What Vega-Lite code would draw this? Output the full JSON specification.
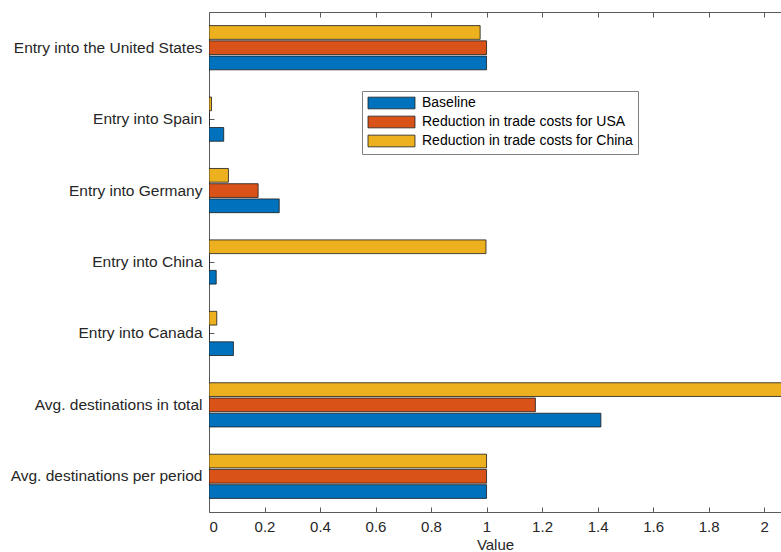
{
  "$schema": "https://vega.github.io/schema/vega-lite/v6.json",
  "width": 572,
  "height": 500,
  "autosize": "none",
  "padding": {"left": 209, "top": 12, "right": 0, "bottom": 40},
  "background": "white",
  "config": {
    "view": {"stroke": "#5a5a5a", "strokeWidth": 1},
    "font": "Liberation Sans",
    "axis": {
      "labelColor": "#262626",
      "titleColor": "#262626",
      "tickColor": "#5a5a5a",
      "domainColor": "#5a5a5a",
      "labelFont": "Liberation Sans",
      "titleFont": "Liberation Sans",
      "grid": false
    }
  },
  "data": {
    "values": [
      {"category": "Entry into the United States", "series": "Baseline", "value": 1.0},
      {"category": "Entry into the United States", "series": "Reduction in trade costs for USA", "value": 1.0},
      {"category": "Entry into the United States", "series": "Reduction in trade costs for China", "value": 0.977},
      {"category": "Entry into Spain", "series": "Baseline", "value": 0.053},
      {"category": "Entry into Spain", "series": "Reduction in trade costs for USA", "value": 0.0},
      {"category": "Entry into Spain", "series": "Reduction in trade costs for China", "value": 0.009},
      {"category": "Entry into Germany", "series": "Baseline", "value": 0.253},
      {"category": "Entry into Germany", "series": "Reduction in trade costs for USA", "value": 0.177},
      {"category": "Entry into Germany", "series": "Reduction in trade costs for China", "value": 0.07},
      {"category": "Entry into China", "series": "Baseline", "value": 0.026},
      {"category": "Entry into China", "series": "Reduction in trade costs for USA", "value": 0.0},
      {"category": "Entry into China", "series": "Reduction in trade costs for China", "value": 0.998},
      {"category": "Entry into Canada", "series": "Baseline", "value": 0.088},
      {"category": "Entry into Canada", "series": "Reduction in trade costs for USA", "value": 0.0},
      {"category": "Entry into Canada", "series": "Reduction in trade costs for China", "value": 0.028},
      {"category": "Avg. destinations in total", "series": "Baseline", "value": 1.412},
      {"category": "Avg. destinations in total", "series": "Reduction in trade costs for USA", "value": 1.176},
      {"category": "Avg. destinations in total", "series": "Reduction in trade costs for China", "value": 2.2},
      {"category": "Avg. destinations per period", "series": "Baseline", "value": 1.0},
      {"category": "Avg. destinations per period", "series": "Reduction in trade costs for USA", "value": 1.0},
      {"category": "Avg. destinations per period", "series": "Reduction in trade costs for China", "value": 1.0}
    ]
  },
  "resolve": {"axis": {"x": "independent"}},
  "layer": [
    {
      "mark": {"type": "bar", "stroke": "#1a1a1a", "strokeWidth": 0.8, "clip": true},
      "encoding": {
        "y": {
          "field": "category",
          "type": "nominal",
          "sort": ["Entry into the United States", "Entry into Spain", "Entry into Germany", "Entry into China", "Entry into Canada", "Avg. destinations in total", "Avg. destinations per period"],
          "scale": {"paddingInner": 0.36, "paddingOuter": 0.18},
          "axis": {"title": null, "labelFontSize": 15.5, "tickSize": -5, "labelPadding": 12, "domain": false, "labelLimit": 300}
        },
        "yOffset": {
          "field": "series",
          "type": "nominal",
          "sort": ["Reduction in trade costs for China", "Reduction in trade costs for USA", "Baseline"],
          "scale": {"paddingInner": 0.1, "paddingOuter": 0.05}
        },
        "x": {
          "field": "value",
          "type": "quantitative",
          "scale": {"domain": [0, 2.061], "nice": false, "zero": true},
          "axis": {
            "title": "Value",
            "titleFontSize": 15,
            "titleFontWeight": "normal",
            "titlePadding": 3,
            "labelFontSize": 15,
            "values": [0, 0.2, 0.4, 0.6, 0.8, 1, 1.2, 1.4, 1.6, 1.8, 2],
            "format": "~g",
            "tickSize": -5,
            "labelPadding": 12,
            "domain": false,
            "orient": "bottom"
          }
        },
        "color": {
          "field": "series",
          "type": "nominal",
          "scale": {
            "domain": ["Baseline", "Reduction in trade costs for USA", "Reduction in trade costs for China"],
            "range": ["#0072BD", "#D95319", "#EDB120"]
          },
          "legend": {
            "title": null,
            "orient": "none",
            "legendX": 153,
            "legendY": 79,
            "fillColor": "white",
            "strokeColor": "#7f7f7f",
            "padding": 5,
            "labelFontSize": 14,
            "labelColor": "#000000",
            "labelOffset": 41,
            "labelLimit": 400,
            "rowPadding": 3,
            "symbolType": "M-1,-0.975H6.83V0.975H-1Z",
            "symbolSize": 144,
            "symbolStrokeColor": "#1a1a1a",
            "symbolStrokeWidth": 0.8,
            "symbolOpacity": 1
          }
        }
      }
    },
    {
      "data": {"values": [{"v": 0}]},
      "mark": {"type": "rule", "opacity": 0},
      "encoding": {
        "x": {
          "field": "v",
          "type": "quantitative",
          "axis": {
            "orient": "top",
            "title": null,
            "labels": false,
            "values": [0, 0.2, 0.4, 0.6, 0.8, 1, 1.2, 1.4, 1.6, 1.8, 2],
            "tickSize": -5,
            "domain": false
          }
        }
      }
    }
  ]
}
